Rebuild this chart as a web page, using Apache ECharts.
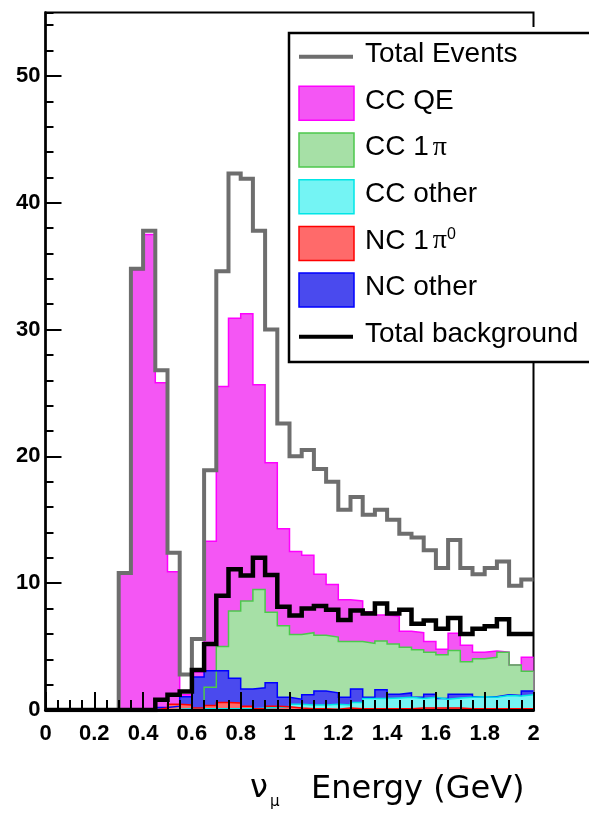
<!DOCTYPE html>
<html>
<head>
<meta charset="utf-8">
<script src="https://cdn.jsdelivr.net/npm/echarts@6/dist/echarts.min.js"></script>
<style>
  html, body { margin: 0; padding: 0; background: #ffffff; }
  #chart { width: 589px; height: 819px; }
</style>
</head>
<body>
<div id="chart"></div>
<script>
// 40 energy bins, 0.05 GeV wide, from 0 to 2 GeV
const binWidth = 0.05;
const binEdges = Array.from({ length: 41 }, (_, i) => Math.round(i * binWidth * 100) / 100);

// Events per bin
const totalEvents = [0, 0, 0, 0, 0, 0, 10.8, 34.8, 37.8, 26.8,
  12.4, 2.8, 5.6, 18.9, 34.6, 42.3, 41.9, 37.8, 30.0, 22.6,
  20.0, 20.5, 19.0, 18.0, 15.8, 16.8, 15.4, 15.8, 15.0, 13.9,
  13.6, 12.6, 11.2, 13.4, 11.2, 10.7, 11.2, 11.7, 9.8, 10.3];

const ccQE = [0, 0, 0, 0, 0, 0, 10.8, 34.7, 37.5, 25.8,
  10.9, 1.2, 3.0, 13.3, 25.5, 30.9, 31.25, 25.65, 19.5, 14.3,
  12.5, 12.2, 10.7, 9.9, 8.7, 8.6, 7.75, 7.5, 7.4, 6.2,
  6.1, 5.4, 4.8, 6.05, 5.1, 4.55, 4.65, 4.55, 3.55, 4.15];

const cc1pi = [0, 0, 0, 0, 0, 0, 0, 0, 0, 0,
  0, 0, 0, 1.8, 5.0, 7.8, 8.6, 9.5, 7.7, 6.65,
  5.95, 6.1, 5.9, 5.75, 5.4, 5.4, 5.25, 5.45, 5.2, 4.95,
  4.75, 4.55, 4.35, 4.7, 3.8, 4.05, 4.15, 4.55, 3.55, 3.05];

const ncOther = [0, 0, 0, 0, 0, 0, 0, 0, 0, 0.2,
  0.3, 1.05, 2.6, 3.1, 3.1, 2.5, 1.65, 1.75, 2.15, 1.0,
  0.85, 1.2, 1.5, 1.35, 1.0, 1.65, 1.0, 1.6, 1.25, 1.35,
  1.0, 1.25, 0.9, 1.25, 1.25, 1.05, 1.05, 1.2, 1.15, 1.5];

const ccOther = [0, 0, 0, 0, 0, 0, 0, 0, 0, 0,
  0.05, 0.1, 0.1, 0.1, 0.1, 0.1, 0.1, 0.15, 0.2, 0.25,
  0.45, 0.4, 0.4, 0.45, 0.4, 0.6, 0.9, 0.9, 0.95, 1.0,
  0.9, 1.0, 0.85, 0.95, 1.0, 1.05, 1.0, 1.15, 1.1, 1.2];

const nc1pi0 = [0, 0, 0, 0, 0, 0, 0, 0, 0, 0.15,
  0.45, 0.4, 0.15, 0.35, 0.6, 0.55, 0.3, 0.1, 0.3, 0.25,
  0.15, 0.1, 0.1, 0.05, 0.15, 0.1, 0.1, 0.1, 0.1, 0.1,
  0.15, 0.15, 0.15, 0.15, 0.1, 0.1, 0.1, 0.1, 0.1, 0.1];

const totalBackground = [0, 0, 0, 0, 0, 0, 0, 0, 0, 0.8,
  1.2, 1.45, 3.15, 5.2, 9.0, 11.1, 10.6, 12.0, 10.65, 8.15,
  7.45, 8.0, 8.2, 7.9, 7.1, 7.85, 7.6, 8.4, 7.6, 7.9,
  6.8, 7.05, 6.4, 7.25, 6.0, 6.4, 6.6, 7.15, 6.0, 6.0];

// Tick label values
const xLabelStep = 0.2;
const yLabelStep = 10;

// Step-histogram points: one point at each bin's left edge plus the closing edge
function histPoints(values) {
  const pts = values.map((v, i) => [binEdges[i], v]);
  pts.push([binEdges[values.length], values[values.length - 1]]);
  return pts;
}

const fillSpecs = [
  { name: 'CC QE', values: ccQE, edge: '#ff00ff', fill: '#f456f4' },
  { name: 'CC 1π', values: cc1pi, edge: '#4cc84c', fill: '#a6e0a6' },
  { name: 'NC other', values: ncOther, edge: '#0000ff', fill: '#4a4aee' },
  { name: 'CC other', values: ccOther, edge: '#00e6e6', fill: '#74f4f4' },
  { name: 'NC 1π0', values: nc1pi0, edge: '#ff0000', fill: '#ff6a6a' }
];
const specByName = {};
fillSpecs.forEach(s => { specByName[s.name] = s; });

const series = fillSpecs.map(s => ({
  type: 'line', name: s.name, step: 'end', symbol: 'none', silent: true,
  data: histPoints(s.values),
  lineStyle: { color: s.edge, width: 1.5, join: 'miter' },
  itemStyle: { color: s.edge },
  areaStyle: { color: s.fill, opacity: 1 },
  z: 2
}));
series.push({
  type: 'line', name: 'Total Events', step: 'end', symbol: 'none', silent: true,
  data: histPoints(totalEvents),
  lineStyle: { color: '#6e6e6e', width: 4, join: 'miter' },
  itemStyle: { color: '#6e6e6e' }, z: 3
});
series.push({
  type: 'line', name: 'Total background', step: 'end', symbol: 'none', silent: true,
  data: histPoints(totalBackground),
  lineStyle: { color: '#000000', width: 4.5, join: 'miter' },
  itemStyle: { color: '#000000' }, z: 3
});

// Legend box drawn as graphic elements
const legendX = 289, legendTop = 33, legendBottom = 362;
const rowY0 = 56.7, rowStep = 46.67;
const legendRows = [
  { kind: 'line', color: '#6e6e6e', text: 'Total Events' },
  { kind: 'fill', key: 'CC QE', text: 'CC QE' },
  { kind: 'fill', key: 'CC 1π', text: '{a|CC 1}{p|π}' },
  { kind: 'fill', key: 'CC other', text: 'CC other' },
  { kind: 'fill', key: 'NC 1π0', text: '{a|NC 1}{p|π}{s|0}' },
  { kind: 'fill', key: 'NC other', text: 'NC other' },
  { kind: 'line', color: '#000000', text: 'Total background' }
];
const legendRich = {
  a: { fontSize: 28, fontFamily: 'Liberation Sans', fill: '#000' },
  p: { fontSize: 28, fontFamily: 'Liberation Serif', fill: '#000', padding: [0, 0, 0, 4] },
  s: { fontSize: 16, fontFamily: 'Liberation Sans', fill: '#000', verticalAlign: 'top' }
};

const graphics = [
  { type: 'rect', z: 100, silent: true,
    shape: { x: legendX, y: 27, width: 320, height: legendBottom - 27 },
    style: { fill: '#ffffff' } },
  { type: 'rect', z: 101, silent: true,
    shape: { x: legendX, y: legendTop, width: 320, height: legendBottom - legendTop },
    style: { fill: '#ffffff', stroke: '#000000', lineWidth: 2.5 } }
];
legendRows.forEach((r, i) => {
  const cy = rowY0 + i * rowStep;
  if (r.kind === 'line') {
    graphics.push({ type: 'line', z: 102, silent: true,
      shape: { x1: 299, y1: cy, x2: 353, y2: cy },
      style: { stroke: r.color, lineWidth: 4 } });
  } else {
    const s = specByName[r.key];
    graphics.push({ type: 'rect', z: 102, silent: true,
      shape: { x: 299, y: cy - 17, width: 55, height: 34 },
      style: { fill: s.fill, stroke: s.edge, lineWidth: 1.5 } });
  }
  graphics.push({ type: 'text', z: 102, silent: true,
    style: { x: 365, y: cy - 2.5, text: r.text, fill: '#000',
      fontSize: 28, fontFamily: 'Liberation Sans', verticalAlign: 'middle', rich: legendRich } });
});

// Axis title: nu_mu Energy (GeV)
graphics.push({ type: 'text', z: 102, silent: true,
  style: { x: 250, y: 789, text: 'ν', fill: '#000', fontSize: 32, fontFamily: 'DejaVu Sans', verticalAlign: 'middle' } });
graphics.push({ type: 'text', z: 102, silent: true,
  style: { x: 270, y: 802, text: 'μ', fill: '#000', fontSize: 15, fontFamily: 'DejaVu Sans', verticalAlign: 'middle' } });
graphics.push({ type: 'text', z: 102, silent: true,
  style: { x: 311, y: 790, text: 'Energy (GeV)', fill: '#000', fontSize: 32, fontFamily: 'DejaVu Sans', verticalAlign: 'middle' } });

const axisZ = 5;
const option = {
  animation: false,
  backgroundColor: '#ffffff',
  grid: { left: 45.5, right: 55.5, top: 12.5, bottom: 109, show: true,
    borderColor: '#000000', borderWidth: 2, backgroundColor: 'transparent' },
  xAxis: [
    { type: 'value', min: 0, max: 2, interval: xLabelStep, position: 'bottom', z: axisZ,
      axisLine: { show: true, onZero: false, lineStyle: { color: '#000', width: 3 } },
      axisTick: { show: true, inside: true, length: 18, lineStyle: { color: '#000', width: 2 } },
      axisLabel: { show: true, margin: 13, color: '#000', fontSize: 22, fontWeight: 'bold',
        fontFamily: 'Liberation Sans' },
      splitLine: { show: false } },
    { type: 'value', min: 0, max: 2, interval: binWidth, position: 'bottom', z: axisZ,
      axisLine: { show: false },
      axisTick: { show: true, inside: true, length: 10, lineStyle: { color: '#000', width: 2 } },
      axisLabel: { show: false }, splitLine: { show: false } }
  ],
  yAxis: [
    { type: 'value', min: 0, max: 55, interval: yLabelStep, position: 'left', z: axisZ,
      axisLine: { show: true, onZero: false, lineStyle: { color: '#000', width: 2.5 } },
      axisTick: { show: true, inside: true, length: 16, lineStyle: { color: '#000', width: 2 } },
      axisLabel: { show: true, margin: 5, color: '#000', fontSize: 22, fontWeight: 'bold',
        fontFamily: 'Liberation Sans', showMaxLabel: false },
      splitLine: { show: false } },
    { type: 'value', min: 0, max: 55, interval: 2, position: 'left', z: axisZ,
      axisLine: { show: false },
      axisTick: { show: true, inside: true, length: 8, lineStyle: { color: '#000', width: 2 } },
      axisLabel: { show: false }, splitLine: { show: false } }
  ],
  series: series,
  graphic: { elements: graphics }
};

const chart = echarts.init(document.getElementById('chart'), null, { renderer: 'canvas' });
chart.setOption(option);
</script>
</body>
</html>
